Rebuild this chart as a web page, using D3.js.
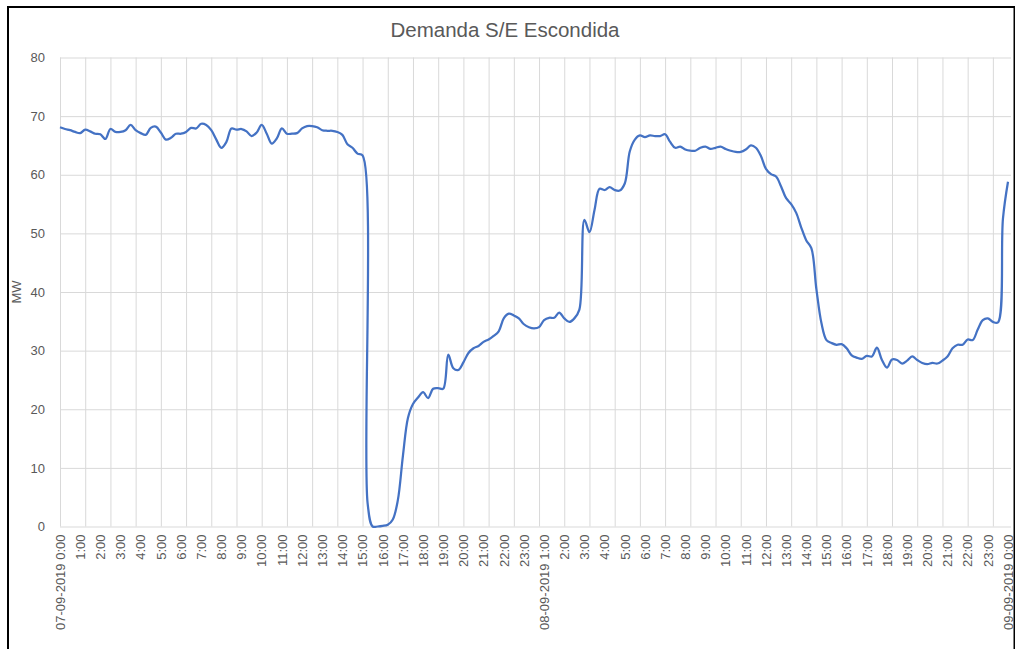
<!DOCTYPE html>
<html lang="es">

<head>
    <meta charset="utf-8">
    <title>Demanda S/E Escondida</title>
    <script src="https://d3js.org/d3.v7.min.js"></script>
    <style>
        body { margin: 0; background: #fff; }
        svg { display: block; font-family: "Liberation Sans", Arial, sans-serif; }
        .grid line { stroke: #d9d9d9; stroke-width: 1; }
        .grid path { display: none; }
        .axis text { fill: #595959; }
        .axis path, .axis line { display: none; }
        .line { fill: none; stroke: #4472c4; stroke-width: 2.25; }
    </style>
</head>

<body>
    <script type="text/javascript">

        //Consts
        const w = 1015;
        const h = 649;
        const plotLeft = 60, plotRight = 1008, plotTop = 57.5, plotBottom = 526.5;

        // x labels, one every 4 readings (15 min data, 08-09 0:00 is missing)
        const tickLabels = ["07-09-2019 0:00", "1:00", "2:00", "3:00", "4:00", "5:00", "6:00", "7:00", "8:00", "9:00",
            "10:00", "11:00", "12:00", "13:00", "14:00", "15:00", "16:00", "17:00", "18:00", "19:00", "20:00",
            "21:00", "22:00", "23:00", "08-09-2019 1:00", "2:00", "3:00", "4:00", "5:00", "6:00", "7:00", "8:00",
            "9:00", "10:00", "11:00", "12:00", "13:00", "14:00", "15:00", "16:00", "17:00", "18:00", "19:00",
            "20:00", "21:00", "22:00", "23:00", "09-09-2019 0:00"];

        const yTicks = [0, 10, 20, 30, 40, 50, 60, 70, 80];

        // demand in MW
        const demand = [
            68.1, 67.8, 67.6, 67.3, 67.1, 67.7, 67.4, 67.0, 66.9, 66.1,
            67.8, 67.3, 67.3, 67.6, 68.5, 67.6, 67.1, 66.8, 68.0, 68.2,
            67.2, 66.0, 66.3, 67.0, 67.0, 67.3, 68.0, 67.9, 68.7, 68.5,
            67.6, 66.0, 64.6, 65.6, 67.9, 67.7, 67.8, 67.4, 66.6, 67.2,
            68.5, 67.0, 65.3, 66.2, 67.9, 67.0, 67.0, 67.1, 67.9, 68.3,
            68.3, 68.1, 67.6, 67.5, 67.5, 67.3, 66.8, 65.2, 64.6, 63.6,
            63.3, 4.0, 0.0, 0.0, 0.1, 0.3, 1.2, 4.5, 12.0, 18.5,
            20.9, 22.0, 22.9, 21.9, 23.5, 23.6, 23.5, 29.3, 27.0, 26.7,
            28.0, 29.6, 30.4, 30.8, 31.5, 31.9, 32.5, 33.3, 35.5, 36.3,
            36.0, 35.5, 34.5, 34.0, 33.8, 34.0, 35.2, 35.6, 35.6, 36.5,
            35.5, 34.9, 35.5, 37.0, 52.3, 50.2, 54.0, 57.6, 57.4, 57.9,
            57.4, 57.3, 58.5, 64.0, 66.0, 66.7, 66.4, 66.7, 66.6, 66.6,
            66.9, 65.6, 64.6, 64.8, 64.3, 64.1, 64.1, 64.6, 64.8, 64.4,
            64.6, 64.8, 64.4, 64.1, 63.9, 63.9, 64.3, 65.0, 64.6, 63.2,
            61.0, 60.1, 59.7, 58.0, 56.0, 55.0, 53.5, 51.0, 48.8, 47.5,
            40.5, 34.7, 31.8, 31.3, 31.0, 31.1, 30.4, 29.2, 28.8, 28.6,
            29.1, 29.0, 30.5, 28.4, 27.1, 28.5, 28.4, 27.8, 28.3, 29.0,
            28.4, 27.9, 27.7, 27.9, 27.8, 28.3, 29.0, 30.4, 31.0, 31.0,
            31.9, 31.8, 33.6, 35.2, 35.5, 34.9, 34.8, 52.5, 58.8
        ];

        const n = demand.length;

        //scales - category index on x
        const xScale = d3.scaleLinear()
            .domain([0, n - 1])
            .range([plotLeft, plotRight]);

        const yScale = d3.scaleLinear()
            .domain([0, 80])
            .range([plotBottom, plotTop]);

        //SVG
        const svg = d3.select("body")
            .append("svg")
            .attr("width", w)
            .attr("height", h);

        //frame
        svg.append("rect")
            .attr("x", 8)
            .attr("y", 7)
            .attr("width", w - 8.5)
            .attr("height", h)
            .attr("fill", "none")
            .attr("stroke", "#000")
            .attr("stroke-width", 2);

        //title
        svg.append("text")
            .attr("x", 505)
            .attr("y", 37)
            .attr("text-anchor", "middle")
            .attr("font-size", 20.5)
            .attr("fill", "#595959")
            .text("Demanda S/E Escondida");

        //vertical grid, every 5 readings
        svg.append("g")
            .attr("class", "grid")
            .attr("transform", "translate(0," + plotBottom + ")")
            .call(d3.axisBottom(xScale)
                .tickValues(d3.range(0, n, 5))
                .tickSize(-(plotBottom - plotTop))
                .tickFormat(""));

        //horizontal grid
        svg.append("g")
            .attr("class", "grid")
            .attr("transform", "translate(" + plotLeft + ",0)")
            .call(d3.axisLeft(yScale)
                .tickValues(yTicks)
                .tickSize(-(plotRight + 3 - plotLeft))
                .tickFormat(""));

        //left axis labels
        svg.append("g")
            .attr("class", "axis")
            .attr("transform", "translate(" + (plotLeft - 12) + ",0)")
            .call(d3.axisLeft(yScale).tickValues(yTicks).tickSize(0))
            .selectAll("text")
            .attr("font-size", 13)
            .attr("font-family", "Liberation Sans, Arial, sans-serif");

        //bottom axis labels, rotated
        svg.append("g")
            .attr("class", "axis")
            .attr("transform", "translate(0," + plotBottom + ")")
            .call(d3.axisBottom(xScale)
                .tickValues(d3.range(0, n, 4))
                .tickSize(0)
                .tickFormat(d => tickLabels[d / 4]))
            .selectAll("text")
            .attr("font-size", 13)
            .attr("font-family", "Liberation Sans, Arial, sans-serif")
            .attr("text-anchor", "end")
            .attr("transform", "rotate(-90)")
            .attr("x", -8)
            .attr("y", 0)
            .attr("dy", "0.33em");

        //y axis title
        svg.append("text")
            .attr("transform", "translate(21," + ((plotTop + plotBottom) / 2) + ") rotate(-90)")
            .attr("text-anchor", "middle")
            .attr("font-size", 13)
            .attr("fill", "#595959")
            .text("MW");

        //demand line
        const line = d3.line()
            .x((d, i) => xScale(i))
            .y(d => yScale(d))
            .curve(d3.curveCatmullRom.alpha(0.5));

        svg.append("path")
            .attr("d", line(demand))
            .attr("class", "line");

    </script>
</body>

</html>
